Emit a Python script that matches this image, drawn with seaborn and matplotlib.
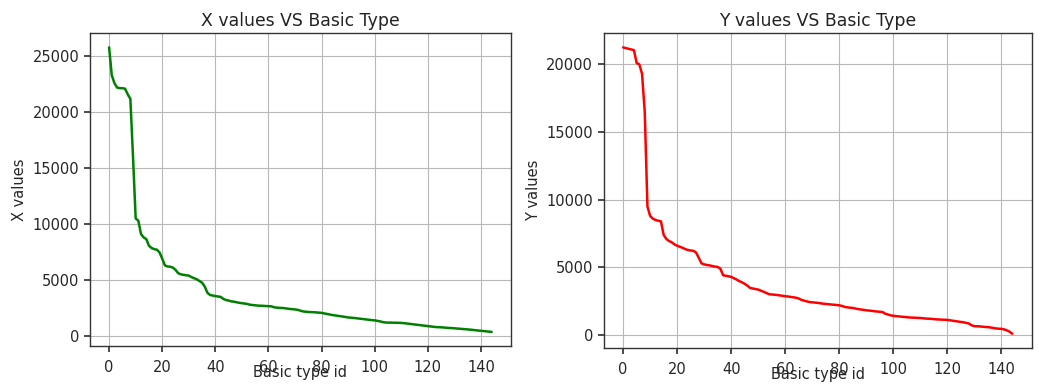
import numpy as np
import pandas as pd
import matplotlib
matplotlib.use("Agg")
import matplotlib.pyplot as plt
import seaborn as sns

x_values = [25800, 23300, 22600, 22200, 22150, 22150, 22100, 21600, 21200, 16000,
            10500, 10300, 9100, 8800, 8650, 8050, 7850, 7750, 7700, 7450,
            6900, 6300, 6200, 6180, 6100, 5900, 5600, 5500, 5450, 5420,
            5380, 5250, 5150, 5050, 4900, 4750, 4400, 3850, 3650, 3600,
            3550, 3520, 3480, 3300, 3200, 3150, 3080, 3050, 3000, 2950,
            2920, 2900, 2850, 2780, 2750, 2720, 2700, 2690, 2680, 2660,
            2650, 2640, 2560, 2520, 2500, 2490, 2470, 2430, 2400, 2380,
            2360, 2320, 2250, 2180, 2150, 2130, 2120, 2110, 2090, 2070,
            2050, 2000, 1950, 1900, 1860, 1820, 1790, 1760, 1720, 1680,
            1640, 1620, 1600, 1570, 1540, 1520, 1490, 1450, 1420, 1400,
            1380, 1340, 1290, 1230, 1190, 1180, 1180, 1170, 1170, 1160,
            1150, 1130, 1100, 1060, 1030, 1000, 970, 940, 910, 880,
            850, 820, 800, 780, 770, 760, 740, 720, 700, 690,
            670, 650, 630, 610, 590, 570, 550, 520, 490, 470,
            450, 420, 400, 370, 350]

y_values = [21250, 21200, 21150, 21100, 21050, 20100, 20000, 19300, 16500, 9500,
            8800, 8600, 8500, 8450, 8400, 7400, 7100, 6950, 6850, 6700,
            6600, 6520, 6450, 6350, 6280, 6250, 6220, 6100, 5700, 5300,
            5220, 5180, 5150, 5100, 5060, 5030, 4900, 4420, 4380, 4340,
            4300, 4200, 4100, 3980, 3900, 3780, 3650, 3480, 3440, 3400,
            3360, 3280, 3200, 3110, 3020, 3000, 2980, 2960, 2930, 2900,
            2870, 2850, 2820, 2790, 2760, 2700, 2600, 2540, 2490, 2440,
            2420, 2400, 2380, 2350, 2320, 2300, 2280, 2260, 2240, 2220,
            2200, 2150, 2080, 2050, 2020, 2000, 1960, 1920, 1890, 1860,
            1830, 1810, 1790, 1760, 1740, 1720, 1700, 1580, 1520, 1460,
            1420, 1400, 1380, 1360, 1340, 1320, 1300, 1290, 1280, 1270,
            1260, 1240, 1220, 1210, 1200, 1180, 1160, 1150, 1140, 1130,
            1120, 1090, 1060, 1030, 1000, 970, 940, 900, 850, 720,
            660, 650, 640, 620, 600, 590, 560, 520, 490, 470,
            460, 420, 350, 250, 100]

type_ids = list(range(len(x_values)))

titles = ["X values VS Basic Type", "Y values VS Basic Type"]
ylabels = ["X values", "Y values"]
xlabel = "Basic type id"

sns.set_theme(style="ticks")
plt.rcParams['font.family'] = ['DejaVu Sans']

fig = plt.figure(figsize=(10.39, 3.85), dpi=100)
ax1 = fig.add_axes([0.0866, 0.101, 0.405, 0.813])
ax2 = fig.add_axes([0.581, 0.096, 0.412, 0.818])

df = pd.DataFrame({"id": type_ids, "x": x_values, "y": y_values})

for ax, col, color, title, yl in [(ax1, "x", "green", titles[0], ylabels[0]),
                                   (ax2, "y", "red", titles[1], ylabels[1])]:
    sns.lineplot(data=df, x="id", y=col, color=color, linewidth=1.8, ax=ax)
    ax.set_title(title, fontsize=12.4, pad=5, color="#222222")
    ax.set_ylabel(yl, fontsize=10.5, labelpad=4)
    ax.set_xlabel(xlabel, fontsize=10.5, labelpad=-7)
    ax.grid(True, color="#b8b8b8", linewidth=0.8)
    ax.tick_params(labelsize=10.5, direction="out", length=4, color="#333333")
    ax.tick_params(axis="x", pad=6)
    for s in ax.spines.values():
        s.set_color("#333333")
        s.set_linewidth(1.0)
    ax.set_xticks([0, 20, 40, 60, 80, 100, 120, 140])
    ax.margins(x=0.05, y=0.05)

ax1.set_yticks([0, 5000, 10000, 15000, 20000, 25000])
ax2.set_yticks([0, 5000, 10000, 15000, 20000])

fig.savefig("out.png", dpi=100)
